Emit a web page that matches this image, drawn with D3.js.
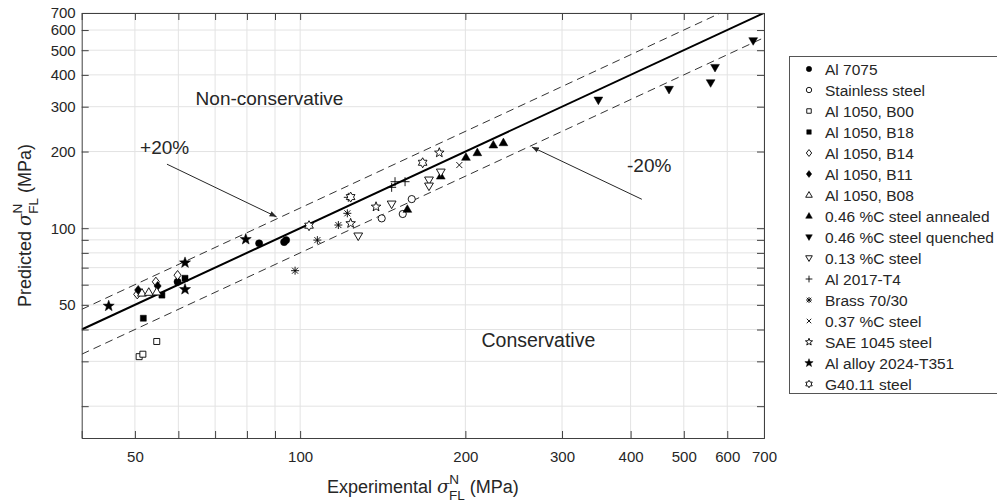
<!DOCTYPE html>
<html>
<head>
<meta charset="utf-8">
<script src="https://cdn.jsdelivr.net/npm/d3@7"></script>
<style>
  body { margin: 0; background: #fff; }
  text { font-family: "Liberation Sans", Arial, sans-serif; fill: #262626; }
</style>
</head>
<body>
<div id="chart"></div>
<script>
// series values [experimental, predicted] in MPa
const al7075 = [[59.8, 61.6], [84.2, 87.2], [93.5, 88.2], [94.3, 89.8]];
const stainless = [[140.8, 109.3], [153.8, 113.7], [159.7, 130.1]];
const al1050B00 = [[50.9, 31.3], [51.7, 32.0], [54.8, 35.9]];
const al1050B18 = [[51.8, 44.3], [56.0, 54.6], [61.7, 63.6]];
const al1050B14 = [[50.5, 55.0], [54.6, 61.6], [59.8, 65.4]];
const al1050B11 = [[50.7, 57.2], [55.0, 59.3]];
const al1050B08 = [[51.5, 55.6], [53.0, 56.0], [54.8, 56.2]];
const c046Annealed = [[156.8, 118.6], [180.4, 160.2], [200.5, 189.8], [210.3, 197.9], [224.9, 212.2], [234.6, 216.6]];
const c046Quenched = [[349.4, 318.6], [470, 351], [559.6, 372.7], [570, 428], [669, 545]];
const c013 = [[127.6, 93.2], [146.8, 124.4], [171.7, 154.6], [171.7, 146.4], [180.4, 166.1]];
const al2017 = [[122.4, 132.2], [146.8, 144.7], [148.9, 152.3], [155.3, 152.3]];
const brass = [[97.9, 68.1], [107.5, 89.8], [117.4, 102.9], [121.9, 114.4]];
const c037 = [[195, 177]];
const sae1045 = [[123.6, 104.5], [137.5, 121.4], [179.3, 197.9]];
const al2024 = [[44.8, 49.5], [61.7, 73.2], [61.7, 57.5], [79.6, 90.4]];
const g4011 = [[103.8, 102.3], [123.6, 132.5], [167.2, 180.7]];

const seriesNames = ['Al 7075', 'Stainless steel', 'Al 1050, B00', 'Al 1050, B18', 'Al 1050, B14',
  'Al 1050, B11', 'Al 1050, B08', '0.46 %C steel annealed', '0.46 %C steel quenched', '0.13 %C steel',
  'Al 2017-T4', 'Brass 70/30', '0.37 %C steel', 'SAE 1045 steel', 'Al alloy 2024-T351', 'G40.11 steel'];
const seriesData = [al7075, stainless, al1050B00, al1050B18, al1050B14, al1050B11, al1050B08,
  c046Annealed, c046Quenched, c013, al2017, brass, c037, sae1045, al2024, g4011];
const markers = ['circleF', 'circle', 'square', 'squareF', 'diamond', 'diamondF', 'triUp', 'triUpF',
  'triDownF', 'triDown', 'plus', 'asterisk', 'cross', 'pentagram', 'pentagramF', 'hexagram'];

const xTicks = [50, 100, 200, 300, 400, 500, 600, 700];
const yTicks = [50, 100, 200, 300, 400, 500, 600, 700];
const xGrid = [50, 60, 70, 80, 90, 100, 200, 300, 400, 500, 600, 700];
const yGrid = [20, 30, 40, 50, 60, 70, 80, 90, 100, 200, 300, 400, 500, 600, 700];

const width = 997, height = 502;
const plot = { left: 81.7, right: 764, top: 13, bottom: 438 };

const svg = d3.select('#chart').append('svg')
  .attr('width', width).attr('height', height);

const x = d3.scaleLog().domain([40, 700]).range([plot.left, plot.right]);
const y = d3.scaleLog().domain([15, 700]).range([plot.bottom, plot.top]);

svg.append('clipPath').attr('id', 'clip')
  .append('rect')
  .attr('x', plot.left).attr('y', plot.top)
  .attr('width', plot.right - plot.left).attr('height', plot.bottom - plot.top);

// grid
const grid = svg.append('g').attr('stroke', '#e3e3e3').attr('stroke-width', 1);
grid.selectAll('.gx').data(xGrid).join('line')
  .attr('x1', d => x(d)).attr('x2', d => x(d))
  .attr('y1', plot.top).attr('y2', plot.bottom);
grid.selectAll('.gy').data(yGrid).join('line')
  .attr('y1', d => y(d)).attr('y2', d => y(d))
  .attr('x1', plot.left).attr('x2', plot.right);

// reference lines
const refX = [40, 700];
const lines = svg.append('g').attr('clip-path', 'url(#clip)').attr('fill', 'none');
const ref = k => d3.line().x(d => x(d)).y(d => y(d * k))(refX);
lines.append('path').attr('d', ref(1.2)).attr('stroke', '#333').attr('stroke-width', 1).attr('stroke-dasharray', '8,5');
lines.append('path').attr('d', ref(0.8)).attr('stroke', '#333').attr('stroke-width', 1).attr('stroke-dasharray', '8,5');
lines.append('path').attr('d', ref(1)).attr('stroke', '#000').attr('stroke-width', 2);

// axes
const axX = svg.append('g').attr('transform', `translate(0,${plot.bottom})`)
  .call(d3.axisBottom(x).tickValues(xGrid).tickSize(-7).tickPadding(13)
    .tickFormat(d => xTicks.includes(d) ? d : ''));
const axXt = svg.append('g').attr('transform', `translate(0,${plot.top})`)
  .call(d3.axisTop(x).tickValues(xGrid).tickSize(-7).tickFormat(''));
const axY = svg.append('g').attr('transform', `translate(${plot.left},0)`)
  .call(d3.axisLeft(y).tickValues(yGrid).tickSize(-7).tickPadding(6)
    .tickFormat(d => yTicks.includes(d) ? d : ''));
const axYr = svg.append('g').attr('transform', `translate(${plot.right},0)`)
  .call(d3.axisRight(y).tickValues(yGrid).tickSize(-7).tickFormat(''));
[axX, axXt, axY, axYr].forEach(a => {
  a.select('.domain').attr('stroke', '#404040');
  a.selectAll('.tick line').attr('stroke', '#404040');
  a.selectAll('text').attr('font-size', 15).attr('fill', '#333')
    .attr('font-family', '"Liberation Sans", Arial, sans-serif');
});

// markers
function starPath(n, ro, ri) {
  const pts = [];
  for (let i = 0; i < 2 * n; i++) {
    const a = -Math.PI / 2 + i * Math.PI / n;
    const r = i % 2 === 0 ? ro : ri;
    pts.push([r * Math.cos(a), r * Math.sin(a)]);
  }
  return 'M' + pts.map(p => p.join(',')).join('L') + 'Z';
}
function markerPath(type, s) {
  switch (type.replace(/F$/, '')) {
    case 'circle': return d3.symbol(d3.symbolCircle, Math.PI * 3.6 * 3.6 * s * s)();
    case 'square': return `M${-3 * s},${-3 * s}h${6 * s}v${6 * s}h${-6 * s}Z`;
    case 'diamond': return `M0,${-4.6 * s}L${3.6 * s},0L0,${4.6 * s}L${-3.6 * s},0Z`;
    case 'triUp': return `M0,${-4.6 * s}L${4.4 * s},${3 * s}L${-4.4 * s},${3 * s}Z`;
    case 'triDown': return `M0,${4.6 * s}L${4.4 * s},${-3 * s}L${-4.4 * s},${-3 * s}Z`;
    case 'plus': return `M${-4.5 * s},0H${4.5 * s}M0,${-4.5 * s}V${4.5 * s}`;
    case 'cross': return `M${-3 * s},${-3 * s}L${3 * s},${3 * s}M${-3 * s},${3 * s}L${3 * s},${-3 * s}`;
    case 'asterisk': return `M${-4 * s},0H${4 * s}M0,${-4 * s}V${4 * s}M${-3 * s},${-3 * s}L${3 * s},${3 * s}M${-3 * s},${3 * s}L${3 * s},${-3 * s}`;
    case 'pentagram': return starPath(5, (type.endsWith('F') ? 5.8 : 5) * s, (type.endsWith('F') ? 2.4 : 2.1) * s);
    case 'hexagram': return starPath(6, 5 * s, 2.9 * s);
  }
}
function drawMarker(g, type, s) {
  const filled = type.endsWith('F');
  const lineOnly = ['plus', 'cross', 'asterisk'].includes(type);
  g.append('path').attr('d', markerPath(type, s))
    .attr('fill', filled ? '#000' : (lineOnly ? 'none' : '#fff'))
    .attr('stroke', '#000')
    .attr('stroke-width', filled ? 0.5 : 0.9);
}

const pts = svg.append('g');
seriesData.forEach((data, i) => {
  data.forEach(d => {
    const g = pts.append('g').attr('transform', `translate(${x(d[0])},${y(d[1])})`);
    drawMarker(g, markers[i], 1);
  });
});

// annotations
const ann = svg.append('g');
ann.append('text').attr('x', x(64.5)).attr('y', y(305)).attr('font-size', 19).text('Non-conservative');
ann.append('text').attr('x', x(214)).attr('y', y(34.1)).attr('font-size', 19.5).text('Conservative');
ann.append('text').attr('x', x(51.1)).attr('y', y(195.7)).attr('font-size', 19).text('+20%');
ann.append('text').attr('x', x(394)).attr('y', y(166)).attr('font-size', 19).text('-20%');

svg.append('defs').append('marker').attr('id', 'ah')
  .attr('viewBox', '0 0 10 10').attr('refX', 10).attr('refY', 5)
  .attr('markerWidth', 7).attr('markerHeight', 7).attr('orient', 'auto')
  .append('path').attr('d', 'M0,1L10,5L0,9Z').attr('fill', '#262626');
const arrows = [[[57.2, 178.4], [90.6, 110.8]], [[419.3, 129.9], [264.3, 208.5]]];
arrows.forEach(a => {
  ann.append('line')
    .attr('x1', x(a[0][0])).attr('y1', y(a[0][1]))
    .attr('x2', x(a[1][0])).attr('y2', y(a[1][1]))
    .attr('stroke', '#262626').attr('stroke-width', 1)
    .attr('marker-end', 'url(#ah)');
});

// axis labels
const xl = svg.append('text').attr('x', (plot.left + plot.right) / 2).attr('y', 493)
  .attr('text-anchor', 'middle').attr('font-size', 18).attr('fill', '#333');
xl.append('tspan').text('Experimental ');
xl.append('tspan').attr('font-style', 'italic').attr('font-family', '"DejaVu Serif", serif').text('σ');
xl.append('tspan').attr('font-size', 13.5).attr('dy', -9).text('N');
xl.append('tspan').attr('font-size', 13.5).attr('dx', -10).attr('dy', 16).text('FL');
xl.append('tspan').attr('dy', -7).text(' (MPa)');

const yl = svg.append('text')
  .attr('transform', `translate(31,${(plot.top + plot.bottom) / 2}) rotate(-90)`)
  .attr('text-anchor', 'middle').attr('font-size', 18).attr('fill', '#333');
yl.append('tspan').text('Predicted ');
yl.append('tspan').attr('font-style', 'italic').attr('font-family', '"DejaVu Serif", serif').text('σ');
yl.append('tspan').attr('font-size', 13.5).attr('dy', -9).text('N');
yl.append('tspan').attr('font-size', 13.5).attr('dx', -10).attr('dy', 16).text('FL');
yl.append('tspan').attr('dy', -7).text(' (MPa)');

// legend
const leg = svg.append('g');
leg.append('rect').attr('x', 789.5).attr('y', 56.5).attr('width', 220).attr('height', 337)
  .attr('fill', '#fff').attr('stroke', '#555').attr('stroke-width', 1);
seriesNames.forEach((name, i) => {
  const ly = 69 + i * 21;
  const g = leg.append('g').attr('transform', `translate(809,${ly})`);
  drawMarker(g, markers[i], 0.75);
  leg.append('text').attr('x', 825).attr('y', ly + 5.5).attr('font-size', 15.5).text(name);
});
</script>
</body>
</html>
